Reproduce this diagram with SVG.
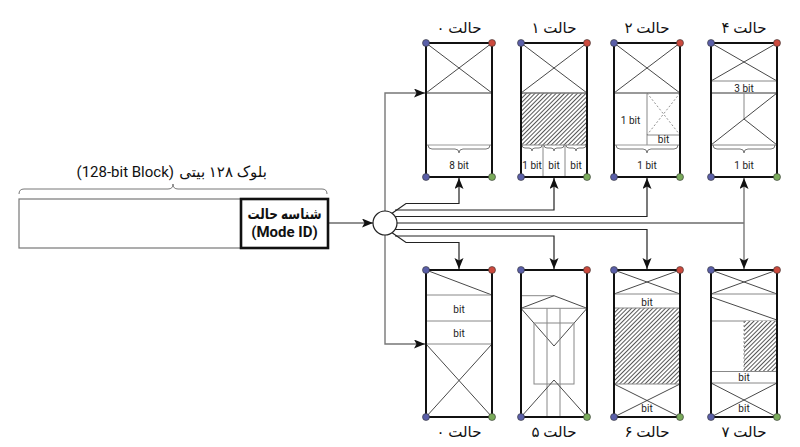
<svg xmlns="http://www.w3.org/2000/svg" width="800" height="447" viewBox="0 0 800 447">
<style>
.frame{fill:none;stroke:#111;stroke-width:2}
.ln{fill:none;stroke:#333;stroke-width:0.9}
.div{fill:none;stroke:#777;stroke-width:1.4}
.lt{fill:none;stroke:#999;stroke-width:1}
.gr{fill:none;stroke:#888;stroke-width:1}
.br{fill:none;stroke:#777;stroke-width:1}
.dash{fill:none;stroke:#777;stroke-width:0.8;stroke-dasharray:2 2}
.bit{font-family:Roboto,"Liberation Sans",sans-serif;font-size:10px;fill:#222;text-anchor:middle}
.lab{font-family:Roboto,"DejaVu Sans",sans-serif;font-size:15px;fill:#111;text-anchor:middle}
.con{fill:none;stroke:#222;stroke-width:1.2}
.trunk{fill:none;stroke:#777;stroke-width:1.4}
.hatch{fill:url(#hatch)}
.db{fill:#5a5fa8;stroke:#333;stroke-width:0.6}
.dr{fill:#cc4a3e;stroke:#333;stroke-width:0.6}
.dg{fill:#7aab5b;stroke:#333;stroke-width:0.6}
</style>
<defs>
<pattern id="hatch" patternUnits="userSpaceOnUse" width="3" height="3" patternTransform="rotate(45)">
<rect width="3" height="3" fill="#fff"/>
<line x1="0.5" y1="0" x2="0.5" y2="3" stroke="#444" stroke-width="0.9"/>
</pattern>
<marker id="arr" markerUnits="userSpaceOnUse" markerWidth="12" markerHeight="10" refX="11" refY="4.5" orient="auto">
<path d="M0,0 L11,4.5 L0,9 L2.5,4.5 z" fill="#111"/>
</marker>
<g id="dots134">
<circle class="db" cx="0" cy="0" r="3.5"/><circle class="dr" cx="66" cy="0" r="3.5"/>
<circle class="db" cx="0" cy="134" r="3.5"/><circle class="dg" cx="66" cy="134" r="3.5"/>
</g>
<g id="dots147">
<circle class="db" cx="0" cy="0" r="3.5"/><circle class="dr" cx="66" cy="0" r="3.5"/>
<circle class="db" cx="0" cy="147" r="3.5"/><circle class="dg" cx="66" cy="147" r="3.5"/>
</g>
</defs>
<rect width="800" height="447" fill="#fff"/>

<!-- 128-bit block -->
<g id="block">
<path class="br" d="M19 194 q0 -5 5 -5 H168 q5 0 5 -5 q0 5 5 5 H322 q5 0 5 5"/>
<text class="lab" x="267" y="177" font-size="14" text-anchor="end" direction="rtl" style="text-anchor:start">بلوک ۱۲۸ بیتی</text>
<text class="lab" x="174" y="177" font-size="14" style="text-anchor:end">(128-bit Block)</text>
<rect x="19" y="199" width="309" height="49" fill="#fff" stroke="#777" stroke-width="1.2"/>
</g>
<g id="modeid">
<rect x="241" y="199" width="87" height="49" fill="#fff" stroke="#111" stroke-width="2.6"/>
<text class="lab" x="284.5" y="219" font-size="13" font-weight="bold" direction="rtl" textLength="74" lengthAdjust="spacingAndGlyphs">شناسه حالت</text>
<text class="lab" x="284.5" y="237" font-size="14" font-weight="bold">(Mode ID)</text>
</g>

<!-- connectors -->
<g id="connectors">
<line class="con" x1="329" y1="223" x2="373" y2="223" marker-end="url(#arr)"/>
<path class="trunk" d="M385 215 V93 H425" marker-end="url(#arr)"/>
<path class="trunk" d="M385 231 V344 H425" marker-end="url(#arr)"/>
<path class="con" d="M391 214 L406 203.5 H459 V178" marker-end="url(#arr)"/>
<path class="con" d="M395 210 H554 V178" marker-end="url(#arr)"/>
<path class="con" d="M395 216.5 H647 V178" marker-end="url(#arr)"/>
<path class="con" d="M395 223 H744"/>
<path class="trunk" d="M744 223 V178" marker-end="url(#arr)"/>
<path class="trunk" d="M744 223 V269" marker-end="url(#arr)"/>
<path class="con" d="M395 229.5 H647 V269" marker-end="url(#arr)"/>
<path class="con" d="M395 236 H554 V269" marker-end="url(#arr)"/>
<path class="con" d="M391 232 L406 242.5 H459 V269" marker-end="url(#arr)"/>
</g>
<g id="switch">
<circle cx="385" cy="223" r="12" fill="#fff" stroke="#222" stroke-width="1.2"/>
</g>

<!-- top row -->
<g id="mode0-top" transform="translate(426,43)">
<line class="ln" x1="0" y1="0" x2="66" y2="50"/><line class="ln" x1="66" y1="0" x2="0" y2="50"/>
<line class="div" x1="0" y1="50" x2="66" y2="50"/>
<line class="lt" x1="0" y1="102" x2="66" y2="102"/>
<path class="br" d="M2 102 q0 4 4 4 H29 q4 0 4 4 q0 -4 4 -4 H60 q4 0 4 -4"/>
<text class="bit" x="33" y="126">8 bit</text>
<rect class="frame" x="0" y="0" width="66" height="134"/>
<use href="#dots134"/>
<text class="lab" x="33" y="-10" direction="rtl">حالت ۰</text>
</g>

<g id="mode1" transform="translate(521,43)">
<line class="ln" x1="0" y1="0" x2="66" y2="50"/><line class="ln" x1="66" y1="0" x2="0" y2="50"/>
<rect class="hatch" x="0" y="50" width="66" height="52"/>
<line class="div" x1="0" y1="50" x2="66" y2="50"/>
<line class="gr" x1="0" y1="102" x2="66" y2="102"/>
<line class="gr" x1="22" y1="102" x2="22" y2="134"/>
<line class="gr" x1="44" y1="102" x2="44" y2="134"/>
<path class="br" d="M1 102 q0 3 3 3 H8 q3 0 3 3 q0 -3 3 -3 H18 q3 0 3 -3"/>
<path class="br" d="M23 102 q0 3 3 3 H30 q3 0 3 3 q0 -3 3 -3 H40 q3 0 3 -3"/>
<path class="br" d="M45 102 q0 3 3 3 H52 q3 0 3 3 q0 -3 3 -3 H62 q3 0 3 -3"/>
<text class="bit" x="11" y="126">1 bit</text>
<text class="bit" x="33" y="126">bit</text>
<text class="bit" x="55" y="126">bit</text>
<rect class="frame" x="0" y="0" width="66" height="134"/>
<use href="#dots134"/>
<text class="lab" x="33" y="-10" direction="rtl">حالت ۱</text>
</g>

<g id="mode2" transform="translate(614,43)">
<line class="ln" x1="0" y1="0" x2="66" y2="50"/><line class="ln" x1="66" y1="0" x2="0" y2="50"/>
<line class="div" x1="0" y1="50" x2="66" y2="50"/>
<line class="gr" x1="33" y1="50" x2="33" y2="102"/>
<line class="dash" x1="33" y1="50" x2="66" y2="92"/><line class="dash" x1="66" y1="50" x2="33" y2="92"/>
<line class="gr" x1="33" y1="92" x2="66" y2="92"/>
<text class="bit" x="16.5" y="80.5">1 bit</text>
<text class="bit" x="49.5" y="100">bit</text>
<line class="lt" x1="0" y1="102" x2="66" y2="102"/>
<path class="br" d="M2 102 q0 4 4 4 H29 q4 0 4 4 q0 -4 4 -4 H60 q4 0 4 -4"/>
<text class="bit" x="33" y="126">1 bit</text>
<rect class="frame" x="0" y="0" width="66" height="134"/>
<use href="#dots134"/>
<text class="lab" x="33" y="-10" direction="rtl">حالت ۲</text>
</g>

<g id="mode4" transform="translate(711,43)">
<line class="ln" x1="0" y1="0" x2="66" y2="38"/><line class="ln" x1="66" y1="0" x2="0" y2="38"/>
<line class="gr" x1="0" y1="38" x2="66" y2="38"/>
<text class="bit" x="33" y="48.5">3 bit</text>
<line class="div" x1="0" y1="50" x2="66" y2="50"/>
<line class="gr" x1="33" y1="50" x2="33" y2="76"/>
<line class="ln" x1="66" y1="50" x2="0" y2="102"/><line class="ln" x1="33" y1="76" x2="66" y2="102"/>
<line class="gr" x1="0" y1="102" x2="66" y2="102"/>
<path class="br" d="M2 102 q0 4 4 4 H29 q4 0 4 4 q0 -4 4 -4 H60 q4 0 4 -4"/>
<text class="bit" x="33" y="126">1 bit</text>
<rect class="frame" x="0" y="0" width="66" height="134"/>
<use href="#dots134"/>
<text class="lab" x="33" y="-10" direction="rtl">حالت ۴</text>
</g>

<!-- bottom row -->
<g id="mode0-bottom" transform="translate(426,270)">
<line class="ln" x1="0" y1="0" x2="66" y2="25"/>
<line class="gr" x1="0" y1="25" x2="66" y2="25"/>
<text class="bit" x="33" y="42.5">bit</text>
<line class="gr" x1="0" y1="51" x2="66" y2="51"/>
<text class="bit" x="33" y="66.5">bit</text>
<line class="gr" x1="0" y1="74" x2="66" y2="74"/>
<line class="ln" x1="0" y1="74" x2="66" y2="147"/><line class="ln" x1="66" y1="74" x2="0" y2="147"/>
<rect class="frame" x="0" y="0" width="66" height="147"/>
<use href="#dots147"/>
<text class="lab" x="33" y="167" direction="rtl">حالت ۰</text>
</g>

<g id="mode5" transform="translate(521,270)">
<line class="gr" x1="0" y1="25.7" x2="33" y2="25.7"/>
<polyline class="ln" points="0,38.3 33,25.7 66,38.3"/>
<line class="gr" x1="0" y1="38.3" x2="66" y2="38.3"/>
<polyline class="ln" points="0,38.3 33,76 66,38.3"/>
<rect class="gr" x="13" y="53" width="40" height="61"/>
<line class="gr" x1="26" y1="38.3" x2="26" y2="147"/>
<line class="gr" x1="39" y1="38.3" x2="39" y2="147"/>
<polyline class="ln" points="0,147 33,110 66,147"/>
<rect class="frame" x="0" y="0" width="66" height="147"/>
<use href="#dots147"/>
<text class="lab" x="33" y="167" direction="rtl">حالت ۵</text>
</g>

<g id="mode6" transform="translate(614,270)">
<line class="ln" x1="0" y1="0" x2="66" y2="24"/><line class="ln" x1="66" y1="0" x2="0" y2="24"/>
<line class="gr" x1="0" y1="24" x2="66" y2="24"/>
<text class="bit" x="33" y="35.5">bit</text>
<rect class="hatch" x="0" y="38" width="66" height="76"/>
<line class="gr" x1="0" y1="38" x2="66" y2="38"/>
<line class="gr" x1="0" y1="114" x2="66" y2="114"/>
<line class="ln" x1="0" y1="114" x2="66" y2="147"/><line class="ln" x1="66" y1="114" x2="0" y2="147"/>
<text class="bit" x="33" y="142">bit</text>
<rect class="frame" x="0" y="0" width="66" height="147"/>
<use href="#dots147"/>
<text class="lab" x="33" y="167" direction="rtl">حالت ۶</text>
</g>

<g id="mode7" transform="translate(711,270)">
<line class="ln" x1="0" y1="0" x2="66" y2="24"/><line class="ln" x1="66" y1="0" x2="0" y2="24"/>
<line class="gr" x1="0" y1="24" x2="66" y2="24"/>
<line class="ln" x1="0" y1="27" x2="66" y2="50"/>
<line class="gr" x1="0" y1="51" x2="66" y2="51"/>
<rect class="hatch" x="33" y="51" width="33" height="50"/>
<line class="dash" x1="33" y1="51" x2="33" y2="101"/>
<line class="gr" x1="0" y1="101.5" x2="66" y2="101.5"/>
<text class="bit" x="33" y="110.5">bit</text>
<line class="gr" x1="0" y1="113" x2="66" y2="113"/>
<line class="ln" x1="0" y1="113" x2="66" y2="147"/><line class="ln" x1="66" y1="113" x2="0" y2="147"/>
<text class="bit" x="33" y="142">bit</text>
<rect class="frame" x="0" y="0" width="66" height="147"/>
<use href="#dots147"/>
<text class="lab" x="33" y="167" direction="rtl">حالت ۷</text>
</g>
</svg>
